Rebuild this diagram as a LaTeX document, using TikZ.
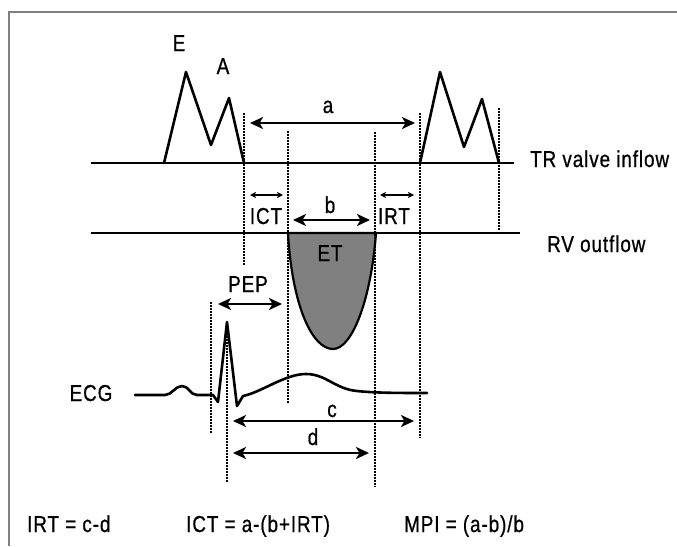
\documentclass[tikz,border=0pt]{standalone}
\usepackage{fontspec}
\setmainfont[FakeStretch=0.82,LetterSpace=4,FakeBold=0.8]{Liberation Sans}
\usetikzlibrary{arrows.meta}
\begin{document}
\begin{tikzpicture}[x=1pt,y=-1pt,
  lbl/.style={inner sep=0pt,font=\fontsize{23}{26}\selectfont},
  wave/.style={line width=2.6pt,line join=round,line cap=round},
  base/.style={line width=2.3pt},
  dots/.style={line width=2pt,dash pattern=on 1.5pt off 1.5pt},
  bigarr/.style={line width=2.3pt,{Stealth[length=13pt,width=12pt,inset=3.5pt]}-{Stealth[length=13pt,width=12pt,inset=3.5pt]}},
  smallarr/.style={line width=1.5pt,{Stealth[length=6pt,width=6pt,inset=1.5pt]}-{Stealth[length=6pt,width=6pt,inset=1.5pt]}}]
\useasboundingbox (0,0) rectangle (677,546);
% frame
\coordinate (fr1) at (677,12); \coordinate (fr2) at (9,12); \coordinate (fr3) at (9,546);
\draw[gray,line width=1.4pt] (fr1) -- (fr2) -- (fr3);
% baselines
\coordinate (tr1) at (91,163); \coordinate (tr2) at (514,163);
\coordinate (rv1) at (91,233); \coordinate (rv2) at (520,233);
\draw[base] (tr1) -- (tr2);
\draw[base] (rv1) -- (rv2);
% ET shape
\coordinate (et1) at (288,233); \coordinate (etb) at (333,349); \coordinate (et2) at (376,233);
\draw[line width=2.2pt,fill=gray] (et1) .. controls (292,305) and (312,349) .. (etb) .. controls (352,349) and (371,300) .. (et2) -- cycle;
% TR waves
\draw[wave] (164,163) -- (186,72) -- (211,145) -- (229,98) -- (244,163);
\draw[wave] (420,163) -- (440,72) -- (464,147) -- (482,99) -- (499,163);
% ECG
\draw[wave] (135,395) -- (165,395) .. controls (172,395) and (175,386) .. (182,386)
  .. controls (189,386) and (190,395) .. (197,395) -- (213,395) -- (218,402) -- (227,322)
  -- (237,406) -- (243,396) .. controls (262,392) and (285,374) .. (306,374)
  .. controls (326,374) and (335,389) .. (357,391) .. controls (375,393) and (400,393) .. (427,393);
% dotted lines
\coordinate (d1a) at (244,113); \coordinate (d1b) at (244,265);
\coordinate (d2a) at (288,131); \coordinate (d2b) at (288,403);
\coordinate (d3a) at (375,132); \coordinate (d3b) at (375,487);
\coordinate (d4a) at (420,113); \coordinate (d4b) at (420,438);
\coordinate (d5a) at (499,108); \coordinate (d5b) at (499,230);
\coordinate (d6a) at (211,302); \coordinate (d6b) at (211,433);
\coordinate (d7a) at (227,327); \coordinate (d7b) at (227,483);
\foreach \i in {1,...,7} \draw[dots] (d\i a) -- (d\i b);
% arrows
\coordinate (a1) at (250,123); \coordinate (a2) at (415,123);
\coordinate (ict1) at (250,195); \coordinate (ict2) at (283,195);
\coordinate (irt1) at (380,195); \coordinate (irt2) at (414,195);
\coordinate (b1) at (293,220); \coordinate (b2) at (370,220);
\coordinate (p1) at (218,304); \coordinate (p2) at (282,304);
\coordinate (c1) at (233,421); \coordinate (c2) at (414,421);
\coordinate (dd1) at (233,453); \coordinate (dd2) at (369,453);
\draw[bigarr] (a1) -- (a2);
\draw[smallarr] (ict1) -- (ict2);
\draw[smallarr] (irt1) -- (irt2);
\draw[bigarr] (b1) -- (b2);
\draw[bigarr] (p1) -- (p2);
\draw[bigarr] (c1) -- (c2);
\draw[bigarr] (dd1) -- (dd2);
% labels
\node[lbl,anchor=base] (lE) at (179,51) {E};
\node[lbl,anchor=base] (lA) at (223,74) {A};
\node[lbl,anchor=base] (la) at (328,113) {a};
\node[lbl,anchor=base] (lb) at (330,213) {b};
\node[lbl,anchor=base] (lc) at (332,417) {c};
\node[lbl,anchor=base] (ld) at (313,445) {d};
\node[lbl,anchor=base] (lICT) at (266,224) {ICT};
\node[lbl,anchor=base] (lIRT) at (394,224) {IRT};
\node[lbl,anchor=base] (lET) at (330,261) {ET};
\node[lbl,anchor=base] (lPEP) at (248,292) {PEP};
\node[lbl,anchor=base] (lECG) at (91,401) {ECG};
\node[lbl,anchor=base west] (lTR) at (530,167) {TR valve inflow};
\node[lbl,anchor=base west] (lRV) at (547,252) {RV outflow};
\node[lbl,anchor=base west] (f1) at (27,532) {IRT = c-d};
\node[lbl,anchor=base west] (f2) at (186,532) {ICT = a-(b+IRT)};
\node[lbl,anchor=base west] (f3) at (404,532) {MPI = (a-b)/b};
\end{tikzpicture}
\end{document}
